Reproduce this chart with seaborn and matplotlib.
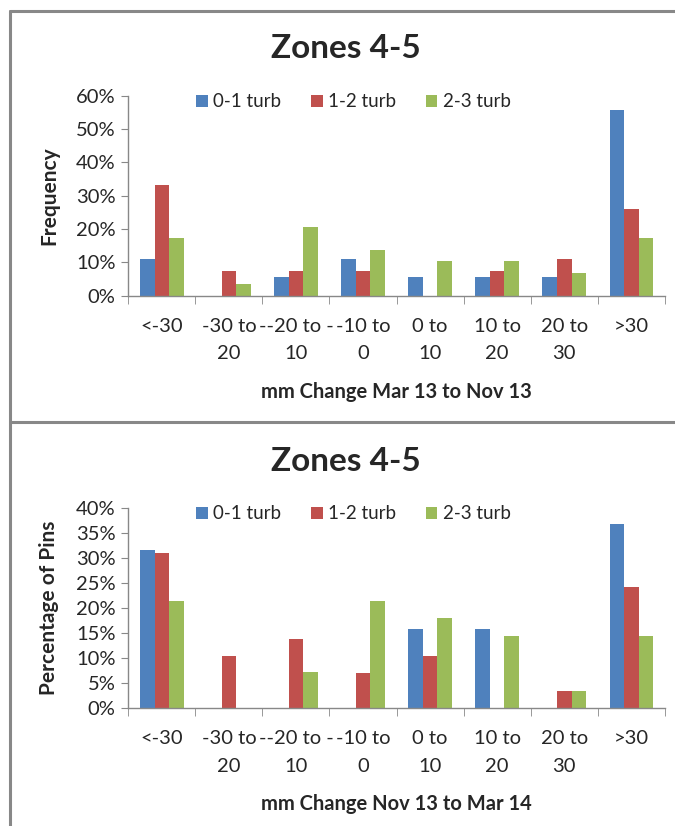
import pandas as pd
import seaborn as sns
import matplotlib.pyplot as plt
from matplotlib.lines import Line2D
from matplotlib.ticker import PercentFormatter, FixedLocator

# Data (percent of pins per change bin)
bins = ['<-30', '-30 to\n20', '--20 to -\n10', '-10 to\n0', '0 to\n10',
        '10 to\n20', '20 to\n30', '>30']
groups = ['0-1 turb', '1-2 turb', '2-3 turb']

top_01 = [11.1, 0.0, 5.6, 11.1, 5.6, 5.6, 5.6, 55.6]
top_12 = [33.3, 7.4, 7.4, 7.4, 0.0, 7.4, 11.1, 25.9]
top_23 = [17.2, 3.4, 20.7, 13.8, 10.3, 10.3, 6.9, 17.2]

bot_01 = [31.6, 0.0, 0.0, 0.0, 15.8, 15.8, 0.0, 36.8]
bot_12 = [31.0, 10.3, 13.8, 6.9, 10.3, 0.0, 3.4, 24.1]
bot_23 = [21.4, 0.0, 7.1, 21.4, 17.9, 14.3, 3.4, 14.3]

colors = ['#4F81BD', '#C0504D', '#9BBB59']

sns.set_style('white')
plt.rcParams['font.family'] = ['Lato', 'DejaVu Sans']

W, H = 675, 826


def long_df(a, b, c):
    rows = []
    for g, vals in zip(groups, [a, b, c]):
        for cat, v in zip(bins, vals):
            rows.append({'bin': cat, 'group': g, 'pct': v})
    return pd.DataFrame(rows)


def draw(ax, df, ymax, ystep, ylabel, xlabel, title_y):
    sns.barplot(data=df, x='bin', y='pct', hue='group', order=bins,
                hue_order=groups, palette=colors, width=0.65, ax=ax,
                saturation=1, edgecolor='none')
    ax.set_xlim(-0.5, len(bins) - 0.5)
    ax.set_ylim(0, ymax)
    ax.yaxis.set_major_locator(FixedLocator(range(0, ymax + 1, ystep)))
    ax.yaxis.set_major_formatter(PercentFormatter(decimals=0))
    ax.set_xticks(range(len(bins)))
    ax.set_xticklabels(bins, fontsize=14.5, linespacing=1.75, va='top')
    ax.set_xticks([i - 0.5 for i in range(len(bins) + 1)], minor=True)
    ax.tick_params(axis='x', which='major', length=0, pad=16)
    ax.tick_params(axis='x', which='minor', length=6, color='#888888',
                   direction='out', bottom=True)
    ax.tick_params(axis='y', length=5, color='#888888', direction='out',
                   left=True, labelsize=14.5, pad=4)
    for s in ['top', 'right']:
        ax.spines[s].set_visible(False)
    for s in ['left', 'bottom']:
        ax.spines[s].set_color('#888888')
        ax.spines[s].set_linewidth(1)
    ax.set_ylabel(ylabel, fontsize=15, fontweight='bold', labelpad=12)
    ax.set_xlabel(xlabel, fontsize=14.5, fontweight='bold', labelpad=14)
    fig.text(346 / W, 1 - title_y / H, 'Zones 4-5', fontsize=24,
             fontweight='bold', ha='center', va='center')
    ax.legend(loc='center', bbox_to_anchor=(0.42, 0.97), ncol=3,
              frameon=False, fontsize=13.5, handlelength=0.6,
              handleheight=0.6, handletextpad=0.3, columnspacing=1.6)


fig = plt.figure(figsize=(6.75, 8.26), dpi=100)
ax1 = fig.add_axes([0.19, 0.642, 0.795, 0.242])
ax2 = fig.add_axes([0.19, 0.143, 0.795, 0.242])

draw(ax1, long_df(top_01, top_12, top_23), 60, 10, 'Frequency',
     'mm Change Mar 13 to Nov 13', 48)
draw(ax2, long_df(bot_01, bot_12, bot_23), 40, 5, 'Percentage of Pins',
     'mm Change Nov 13 to Mar 14', 461)

# Outer chart frames
frame = dict(color='#888888', linewidth=2.2, transform=fig.transFigure)
fig.add_artist(Line2D([10 / W, 10 / W], [1 - 11 / H, 0], **frame))
fig.add_artist(Line2D([10 / W, 1], [1 - 11 / H, 1 - 11 / H], **frame))
fig.add_artist(Line2D([10 / W, 1], [1 - 422 / H, 1 - 422 / H], **frame))

fig.savefig('out.png', dpi=100)
